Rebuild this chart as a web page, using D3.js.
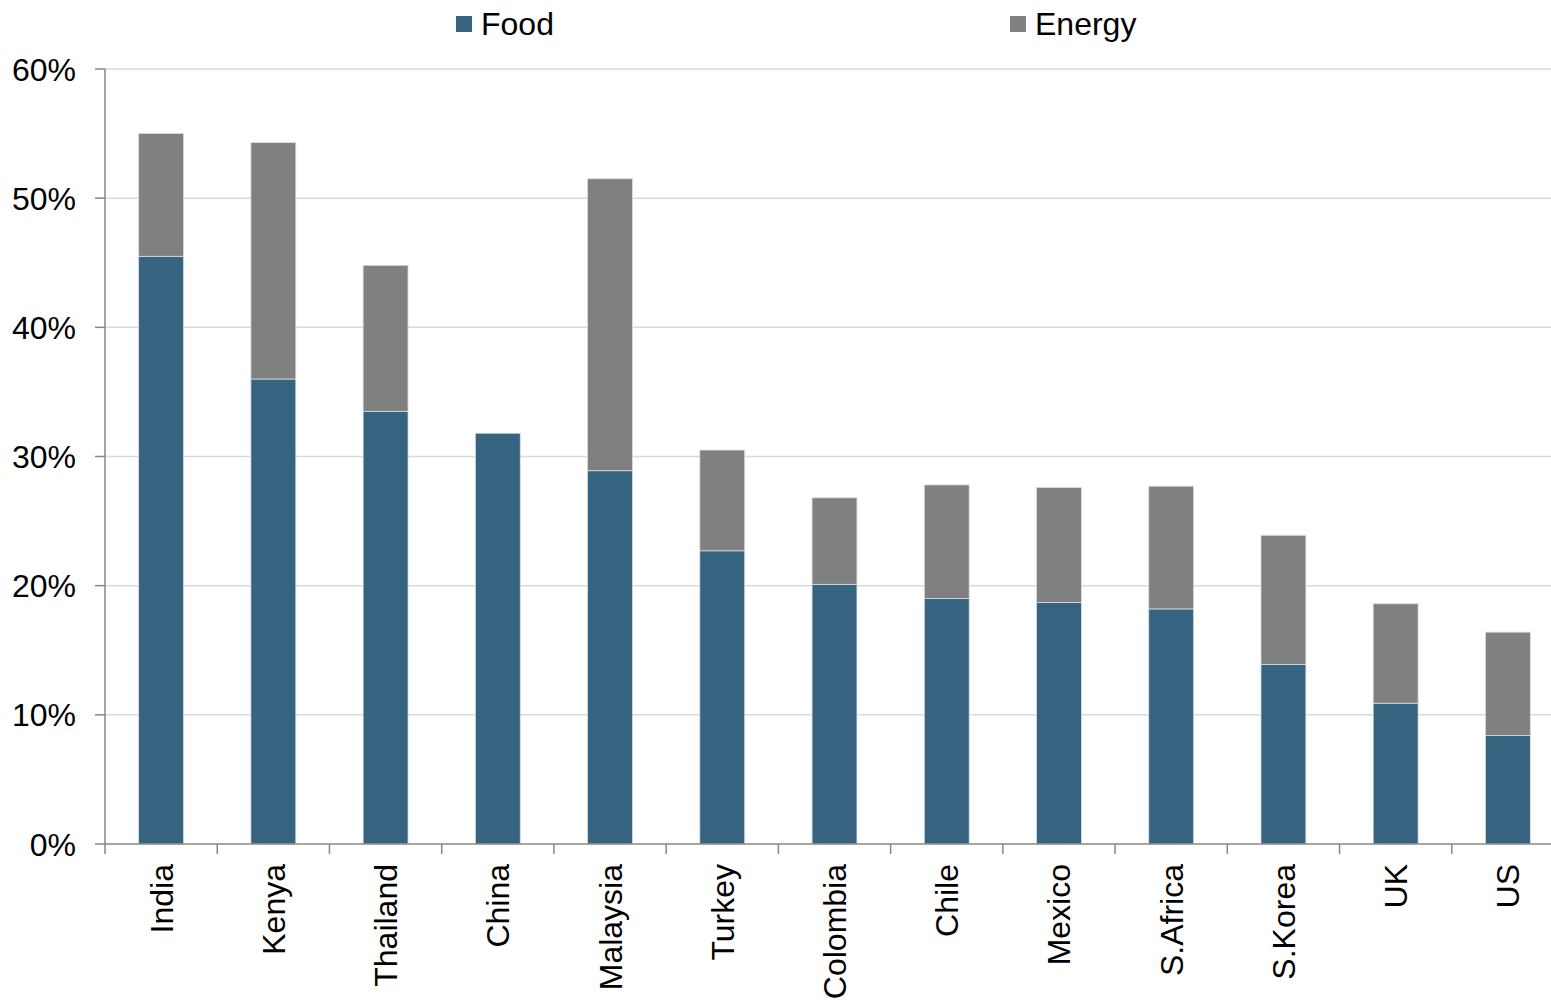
<!DOCTYPE html>
<html>
<head>
<meta charset="utf-8">
<script src="https://cdn.jsdelivr.net/npm/d3@7"></script>
<style>
  html, body { margin: 0; padding: 0; background: #fff; overflow: hidden; }
  text { font-family: "Liberation Sans", Arial, sans-serif; fill: #000; }
</style>
</head>
<body>
<svg id="chart" width="1551" height="1004"></svg>
<script>
// Share of the consumer basket: food and energy, by country
const countries = ["India", "Kenya", "Thailand", "China", "Malaysia", "Turkey", "Colombia",
                   "Chile", "Mexico", "S.Africa", "S.Korea", "UK", "US"];
const food   = [45.5, 36.0, 33.5, 31.8, 28.9, 22.7, 20.1, 19.0, 18.7, 18.2, 13.9, 10.9, 8.4];
const energy = [9.5, 18.3, 11.3, 0.0, 22.6, 7.8, 6.7, 8.8, 8.9, 9.5, 10.0, 7.7, 8.0];
const seriesNames = ["Food", "Energy"];
const yTicks = [0, 10, 20, 30, 40, 50, 60];

const colors = { Food: "#36637f", Energy: "#808080" };
const fontSize = 32;

const svg = d3.select("#chart");
const plotLeft = 105, plotRight = 1564, plotTop = 69, plotBottom = 844;

const x = d3.scaleBand().domain(countries).range([plotLeft, plotRight]).paddingInner(0.6).paddingOuter(0.3);
const xTick = d3.scaleLinear().domain([0, countries.length]).range([plotLeft, plotRight]);
const y = d3.scaleLinear().domain([0, 60]).range([plotBottom, plotTop]);

// Gridlines
svg.append("g").selectAll("line").data(yTicks.filter(d => d > 0)).join("line")
  .attr("x1", plotLeft).attr("x2", 1551)
  .attr("y1", d => y(d)).attr("y2", d => y(d))
  .attr("stroke", "#d9d9d9").attr("stroke-width", 1.5);

// Stacked bars
const rows = countries.map((c, i) => ({ country: c, Food: food[i], Energy: energy[i] }));
const stack = d3.stack().keys(seriesNames)(rows);

svg.append("g").selectAll("g").data(stack).join("g")
  .attr("fill", d => colors[d.key])
  .selectAll("rect").data(d => d.filter(s => s[1] - s[0] > 0)).join("rect")
  .attr("x", d => x(d.data.country))
  .attr("width", x.bandwidth())
  .attr("y", d => y(d[1]))
  .attr("height", d => y(d[0]) - y(d[1]))
  .attr("stroke", "#d8dde2").attr("stroke-width", 0.8);

// Y axis
const yAxis = svg.append("g");
yAxis.append("line").attr("x1", plotLeft).attr("x2", plotLeft).attr("y1", plotTop).attr("y2", plotBottom)
  .attr("stroke", "#878787").attr("stroke-width", 1.5);
yAxis.selectAll("line.tick").data(yTicks).join("line").attr("class", "tick")
  .attr("x1", 95).attr("x2", plotLeft).attr("y1", d => y(d)).attr("y2", d => y(d))
  .attr("stroke", "#878787").attr("stroke-width", 1.5);
yAxis.selectAll("text").data(yTicks).join("text")
  .attr("x", 76).attr("y", d => y(d)).attr("dy", "0.36em")
  .attr("text-anchor", "end").attr("font-size", fontSize)
  .text(d => d + "%");

// X axis
const xAxis = svg.append("g");
xAxis.append("line").attr("x1", plotLeft).attr("x2", 1551).attr("y1", plotBottom).attr("y2", plotBottom)
  .attr("stroke", "#878787").attr("stroke-width", 1.5);
xAxis.selectAll("line.tick").data(d3.range(countries.length + 1)).join("line").attr("class", "tick")
  .attr("x1", d => xTick(d)).attr("x2", d => xTick(d)).attr("y1", plotBottom).attr("y2", plotBottom + 10)
  .attr("stroke", "#878787").attr("stroke-width", 1.5);
xAxis.selectAll("text").data(countries).join("text")
  .attr("transform", d => `translate(${x(d) + x.bandwidth() / 2},${plotBottom + 20}) rotate(-90)`)
  .attr("dy", "0.36em").attr("text-anchor", "end").attr("font-size", fontSize)
  .text(d => d);

// Legend
const legendPos = [456, 1010];
const legend = svg.append("g").selectAll("g").data(seriesNames).join("g")
  .attr("transform", (d, i) => `translate(${legendPos[i]},0)`);
legend.append("rect").attr("x", 0).attr("y", 16).attr("width", 16).attr("height", 16)
  .attr("fill", d => colors[d]);
legend.append("text").attr("x", 25).attr("y", 35).attr("font-size", fontSize).text(d => d);
</script>
</body>
</html>
